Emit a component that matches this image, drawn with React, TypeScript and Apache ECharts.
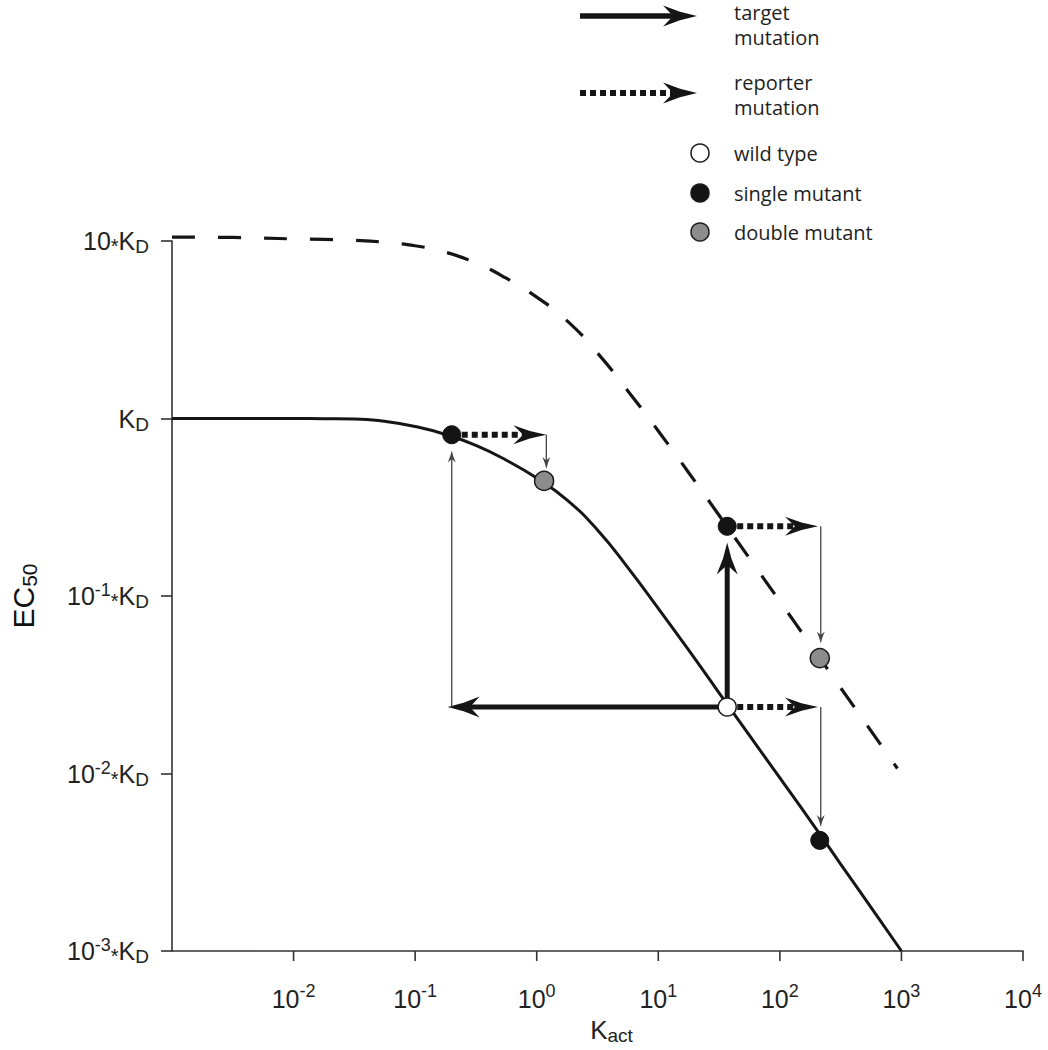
import React, { useEffect, useRef } from "react";
import * as echarts from "echarts";

// ---- data ----
const xTickValues = [0.01, 0.1, 1, 10, 100, 1000, 10000];

// solid curve (EC50 of the target, wild-type reporter), read at quarter-decade steps of K_act
const solidCurveX = [0.001, 0.00178, 0.00316, 0.00562, 0.01, 0.0178, 0.0316, 0.0562, 0.1, 0.178, 0.316, 0.562, 1, 1.78, 3.16, 5.62, 10, 17.8, 31.6, 56.2, 100, 178, 316, 562, 1000];
const solidCurveY = [1, 1, 1, 1, 1, 0.998, 0.995, 0.964, 0.902, 0.813, 0.705, 0.582, 0.462, 0.347, 0.2355, 0.1445, 0.0851, 0.0495, 0.0285, 0.0164, 0.00944, 0.00543, 0.00309, 0.00176, 0.001];

// dashed curve (with reporter mutation)
const dashedCurveX = [0.001, 0.00178, 0.00316, 0.00562, 0.01, 0.0178, 0.0316, 0.0562, 0.1, 0.178, 0.316, 0.562, 1, 1.78, 3.16, 5.62, 10, 17.8, 31.6, 56.2, 100, 178, 316, 562, 927];
const dashedCurveY = [10.52, 10.5, 10.47, 10.38, 10.28, 10.21, 10.09, 9.84, 9.4, 8.65, 7.52, 6.17, 4.83, 3.55, 2.34, 1.43, 0.851, 0.495, 0.285, 0.163, 0.0933, 0.0533, 0.0304, 0.0174, 0.01067];

const wildType = [[36.9, 0.0237]];
const singleMutants = [[0.2, 0.81], [36.9, 0.247], [213, 0.0042]];
const doubleMutants = [[1.15, 0.445], [213, 0.0447]];

// arrows: [fromX, fromY, toX(tip), toY(tip)]
const targetArrows = [[36.9, 0.0237, 0.185, 0.0237], [36.9, 0.0237, 36.9, 0.2]];
const reporterArrows = [[0.2, 0.81, 1.2, 0.81], [36.9, 0.247, 206, 0.247], [36.9, 0.0237, 206, 0.0237]];
const guideArrows = [[0.2, 0.0237, 0.2, 0.66], [1.2, 0.81, 1.2, 0.52], [217, 0.247, 217, 0.054], [217, 0.0237, 217, 0.005]];

const legendArrowLabels = ["target\nmutation", "reporter\nmutation"];
const legendPointLabels = ["wild type", "single mutant", "double mutant"];

// ---- styling ----
const FONT = "'Liberation Sans', Arial, Helvetica, sans-serif";
const LEGEND_FONT = "'Open Sans', 'Noto Sans', sans-serif";
const INK = "#151515";
const AXIS = "#333";
const POINT_SIZE = 18;
const WHITE = "#ffffff";
const BLACK = "#141414";
const GRAY = "#8c8c8c";

function headGeometry(p1: number[], p2: number[], L: number, W: number) {
  const dx = p2[0] - p1[0];
  const dy = p2[1] - p1[1];
  const len = Math.hypot(dx, dy) || 1;
  const ux = dx / len, uy = dy / len, nx = -uy, ny = ux;
  const at = (a: number, b: number) => [p2[0] - ux * a + nx * b, p2[1] - uy * a + ny * b];
  const pts = [p2, at(L * 0.5, W * 0.4), at(L, W), at(L * 0.7, 0), at(L, -W), at(L * 0.5, -W * 0.4)];
  return { pts, base: at(L * 0.6, 0) };
}

function arrowChildren(p1: number[], p2: number[], cfg: any) {
  const g = headGeometry(p1, p2, cfg.L, cfg.W);
  return [
    {
      type: "line",
      shape: { x1: p1[0], y1: p1[1], x2: g.base[0], y2: g.base[1] },
      style: { stroke: cfg.color, lineWidth: cfg.width, lineDash: cfg.dash || null, lineCap: "butt" },
    },
    { type: "polygon", shape: { points: g.pts }, style: { fill: cfg.color } },
  ];
}

const THICK = { L: 32, W: 10.5, width: 5, color: INK };
const DOTTED = { L: 33, W: 9.5, width: 6, color: INK, dash: [6, 4] };
const THIN = { L: 12, W: 4, width: 1.3, color: "#444" };

function arrowSeries(data: number[][], cfg: any) {
  return {
    type: "custom",
    coordinateSystem: "cartesian2d",
    clip: false,
    z: 4,
    silent: true,
    encode: { x: [0, 2], y: [1, 3] },
    data,
    renderItem: (params: any, api: any) => {
      const p1 = api.coord([api.value(0), api.value(1)]);
      const p2 = api.coord([api.value(2), api.value(3)]);
      return { type: "group", children: arrowChildren(p1, p2, cfg) };
    },
  };
}

const expOf = (v: number) => Math.round(Math.log10(v));

export default function App() {
  const ref = useRef<HTMLDivElement>(null);

  useEffect(() => {
    if (!ref.current) return;
    const chart = echarts.init(ref.current, null, { renderer: "svg" });

    const legendGraphic: any[] = [];
    // legend arrows
    legendGraphic.push({
      type: "group",
      children: arrowChildren([580, 16], [697, 16], { L: 34, W: 10.5, width: 5.5, color: INK }),
    });
    legendGraphic.push({
      type: "group",
      children: arrowChildren([580, 93], [697, 93], { L: 34, W: 10.5, width: 6, color: INK, dash: [6, 4] }),
    });
    const arrowLabelY = [25, 95];
    legendArrowLabels.forEach((t, i) => {
      legendGraphic.push({
        type: "text",
        style: {
          text: t,
          x: 734,
          y: arrowLabelY[i],
          verticalAlign: "middle",
          align: "left",
          font: `20px ${LEGEND_FONT}`,
          lineHeight: 25,
          fill: "#1e1e1e",
        },
      });
    });
    const pointFills = [WHITE, BLACK, GRAY];
    const pointY = [153, 193, 232];
    legendPointLabels.forEach((t, i) => {
      legendGraphic.push({
        type: "circle",
        shape: { cx: 700, cy: pointY[i], r: 9 },
        style: { fill: pointFills[i], stroke: "#1a1a1a", lineWidth: 1.5 },
      });
      legendGraphic.push({
        type: "text",
        style: {
          text: t,
          x: 734,
          y: pointY[i],
          verticalAlign: "middle",
          align: "left",
          font: `20px ${LEGEND_FONT}`,
          lineHeight: 25,
          fill: "#1e1e1e",
        },
      });
    });

    const option: any = {
      animation: false,
      backgroundColor: "#ffffff",
      grid: { left: 168, right: 25, top: 241, bottom: 97 },
      xAxis: {
        type: "log",
        logBase: 10,
        min: 0.001,
        max: 10000,
        interval: 1,
        name: "{k|K}{s|act}",
        nameLocation: "middle",
        nameGap: 64,
        nameTextStyle: {
          padding: [0, 0, 0, 28],
          rich: {
            k: { fontFamily: FONT, fontSize: 26, color: "#222", lineHeight: 30 },
            s: { fontFamily: FONT, fontSize: 19, color: "#222", lineHeight: 20, verticalAlign: "bottom" },
          },
        },
        axisLine: { show: true, lineStyle: { color: AXIS, width: 1.6 } },
        axisTick: { show: false },
        minorTick: { show: false },
        splitLine: { show: false },
        axisLabel: {
          margin: 31,
          formatter: (v: number) => {
            const e = expOf(v);
            if (e === -3) return "";
            return `{b|10}{sup|${e}}`;
          },
          rich: {
            b: { fontFamily: FONT, fontSize: 25, color: "#222", lineHeight: 34 },
            sup: { fontFamily: FONT, fontSize: 18, color: "#222", lineHeight: 16, verticalAlign: "top" },
          },
        },
      },
      yAxis: {
        type: "log",
        logBase: 10,
        min: 0.001,
        max: 10,
        interval: 1,
        name: "{b|EC}{s|50}",
        nameLocation: "middle",
        nameRotate: 90,
        nameGap: 132,
        nameTextStyle: {
          rich: {
            b: { fontFamily: FONT, fontSize: 30, color: "#111", lineHeight: 34 },
            s: { fontFamily: FONT, fontSize: 21, color: "#111", lineHeight: 22, verticalAlign: "bottom" },
          },
        },
        axisLine: { show: true, lineStyle: { color: AXIS, width: 1.6 } },
        axisTick: { show: true, length: 11, lineStyle: { color: AXIS, width: 1.6 } },
        minorTick: { show: false },
        splitLine: { show: false },
        axisLabel: {
          margin: 23,
          formatter: (v: number) => {
            const e = expOf(v);
            if (e === 0) return "{b|K}{sub|D}";
            if (e === 1) return "{b|10}{ast|*}{b|K}{sub|D}";
            return `{b|10}{sup|${e}}{ast|*}{b|K}{sub|D}`;
          },
          rich: {
            b: { fontFamily: FONT, fontSize: 25, color: "#222", lineHeight: 30 },
            sup: { fontFamily: FONT, fontSize: 18, color: "#222", lineHeight: 18, verticalAlign: "top" },
            sub: { fontFamily: FONT, fontSize: 19, color: "#222", lineHeight: 20, verticalAlign: "bottom" },
            ast: { fontFamily: FONT, fontSize: 20, color: "#222", lineHeight: 22, verticalAlign: "bottom" },
          },
        },
      },
      graphic: legendGraphic,
      series: [
        {
          type: "custom",
          coordinateSystem: "cartesian2d",
          clip: false,
          silent: true,
          z: 2,
          data: xTickValues.map((v) => [v, 0.001]),
          renderItem: (params: any, api: any) => {
            const p = api.coord([api.value(0), api.value(1)]);
            return {
              type: "line",
              shape: { x1: p[0], y1: p[1], x2: p[0], y2: p[1] + 10 },
              style: { stroke: AXIS, lineWidth: 1.6 },
            };
          },
        },
        {
          type: "line",
          data: solidCurveX.map((x, i) => [x, solidCurveY[i]]),
          showSymbol: false,
          smooth: 0.5,
          clip: false,
          z: 3,
          silent: true,
          lineStyle: { color: INK, width: 3 },
        },
        {
          type: "line",
          data: dashedCurveX.map((x, i) => [x, dashedCurveY[i]]),
          showSymbol: false,
          smooth: 0.5,
          clip: false,
          z: 3,
          silent: true,
          lineStyle: { color: INK, width: 3.2, type: [23, 23] },
        },
        arrowSeries(targetArrows, THICK),
        arrowSeries(reporterArrows, DOTTED),
        arrowSeries(guideArrows, THIN),
        {
          type: "scatter",
          data: wildType,
          symbolSize: POINT_SIZE,
          z: 6,
          silent: true,
          itemStyle: { color: WHITE, borderColor: "#1a1a1a", borderWidth: 1.5, opacity: 1 },
        },
        {
          type: "scatter",
          data: singleMutants,
          symbolSize: POINT_SIZE,
          z: 6,
          silent: true,
          itemStyle: { color: BLACK, borderColor: "#111", borderWidth: 1, opacity: 1 },
        },
        {
          type: "scatter",
          data: doubleMutants,
          symbolSize: POINT_SIZE + 1,
          z: 6,
          silent: true,
          itemStyle: { color: GRAY, borderColor: "#1a1a1a", borderWidth: 1.5, opacity: 1 },
        },
      ],
    };

    chart.setOption(option);
    return () => chart.dispose();
  }, []);

  return (
    <div
      ref={ref}
      style={{ position: "absolute", left: 0, top: 0, width: 1048, height: 1050, background: "#fff" }}
    />
  );
}
